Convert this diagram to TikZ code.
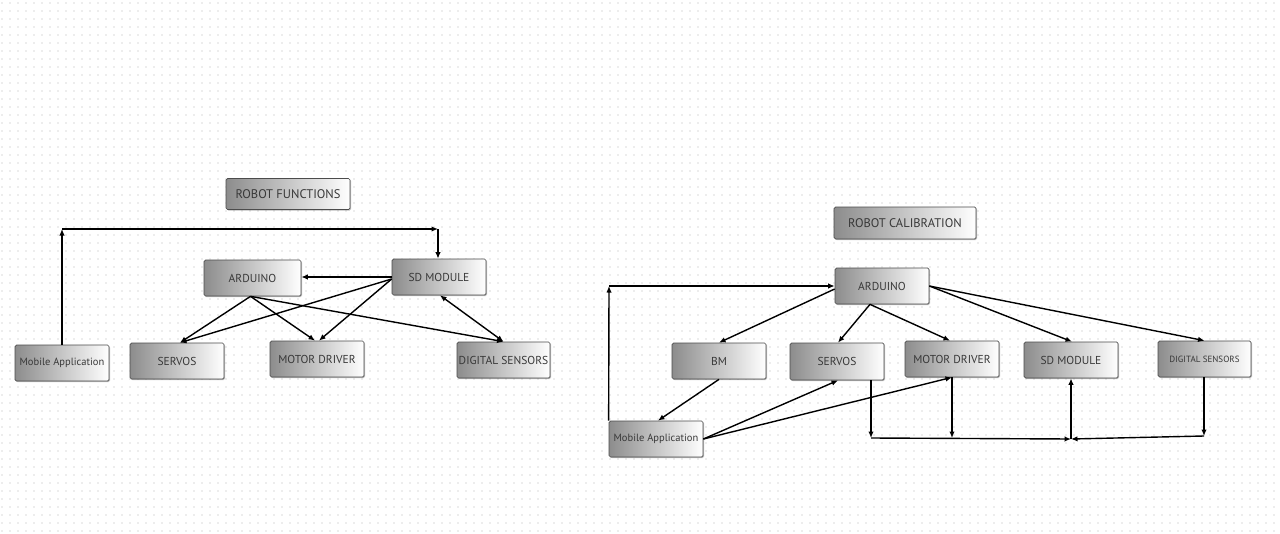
\documentclass[tikz,border=0pt]{standalone}
\usepackage{fontspec}
\setmainfont{PT Sans}
\usetikzlibrary{arrows.meta,shadows,calc}
\begin{document}
\begin{tikzpicture}[x=1pt,y=-1pt,
  blk/.style={draw=black!70, line width=0.7pt, rounded corners=1.5pt,
    left color=black!45, right color=white, text=black!78,
    minimum width=94pt, minimum height=36pt, inner sep=1pt,
    font=\fontsize{11.5}{13}\selectfont,
    drop shadow={shadow xshift=1pt, shadow yshift=-1pt, opacity=0.25, fill=black}},
  conn/.style={line width=1.4pt, -{Latex[length=6.5pt,width=5.5pt]}},
  dconn/.style={line width=1.4pt, {Latex[length=6.5pt,width=5.5pt]}-{Latex[length=6.5pt,width=5.5pt]}},
  plain/.style={line width=1.4pt}
]
\useasboundingbox (0,0) rectangle (1280,533);
\fill[white] (0,0) rectangle (1280,533);
\foreach \j in {0,...,66}
  \draw[black!7, line width=2pt, dash pattern=on 2pt off 6pt] (1,\j*8+3) -- (1280,\j*8+3);

% ---------- Left diagram ----------
\node[blk, minimum width=124pt, minimum height=31pt, font=\fontsize{12.5}{14}\selectfont] (rf) at (288,194) {ROBOT FUNCTIONS};
\node[blk, minimum width=97pt] (ard1) at (252.5,278) {ARDUINO};
\node[blk] (sd1) at (439,277) {SD MODULE};
\node[blk, font=\fontsize{10.5}{12}\selectfont] (mob1) at (62,363) {Mobile Application};
\node[blk] (servo1) at (177,361) {SERVOS};
\node[blk] (md1) at (317,359) {MOTOR DRIVER};
\node[blk, minimum width=93pt] (ds1) at (503.5,360) {DIGITAL SENSORS};

\coordinate (c1) at (62,229);
\coordinate (c2) at (438,229);
\draw[conn] (mob1.north) -- (c1);
\draw[conn] (c1) -- (c2);
\draw[conn] (c2) -- (c2 |- sd1.north);
\draw[conn] (sd1.west) -- (ard1.east |- sd1.west);
\coordinate (s1t) at ($(servo1.north)+(3,0)$);
\coordinate (m1t) at (md1.north);
\draw[conn] ($(ard1.south)+(-2,0)$) -- (s1t);
\draw[conn] ($(ard1.south)+(-2,0)$) -- ($(m1t)+(-2,0)$);
\draw[conn] ($(ard1.south)+(-2,0)$) -- ($(ds1.north)+(0,0)$);
\draw[conn] ($(sd1.west)+(0,2)$) -- (s1t);
\draw[conn] ($(sd1.west)+(0,2)$) -- ($(m1t)+(2,0)$);
\draw[dconn] ($(sd1.south)+(1,0)$) -- (ds1.north);

% ---------- Right diagram ----------
\node[blk, minimum width=142pt, minimum height=32pt, font=\fontsize{12.5}{14}\selectfont] (rc) at (905,223) {ROBOT CALIBRATION};
\node[blk] (ard2) at (882,286) {ARDUINO};
\node[blk] (bm) at (719,361) {BM};
\node[blk, minimum height=37pt] (servo2) at (837,361.5) {SERVOS};
\node[blk] (md2) at (952,359) {MOTOR DRIVER};
\node[blk] (sd2) at (1071,360) {SD MODULE};
\node[blk, minimum width=93pt, font=\fontsize{9}{10}\selectfont] (ds2) at (1204.5,359) {DIGITAL SENSORS};
\node[blk, font=\fontsize{10.5}{12}\selectfont] (mob2) at (656,439) {Mobile Application};

\coordinate (c3) at (609,286);
\draw[conn] (mob2.north west) -- (c3);
\draw[conn] (c3) -- (ard2.west);
\draw[conn] ($(ard2.west)+(0,3)$) -- (bm.north);
\coordinate (a2b) at ($(ard2.south)+(-12,0)$);
\draw[conn] (a2b) -- ($(servo2.north)+(1,0)$);
\draw[conn] (a2b) -- ($(md2.north)+(-2,0)$);
\draw[conn] (ard2.east) -- ($(sd2.north)+(1,0)$);
\draw[conn] (ard2.east) -- (ds2.north);
\draw[conn] (bm.south) -- ($(mob2.north)+(2,0)$);
\draw[conn] (mob2.east) -- ($(servo2.south)+(1,0)$);
\draw[conn] (mob2.east) -- (md2.south);

\coordinate (c4) at (871,438);
\coordinate (c5) at (1071,439);
\coordinate (c7) at (1204,436);
\draw[conn] (servo2.south -| c4) -- (c4);
\draw[conn] (c4) -- (c5);
\draw[conn] (md2.south) -- (md2.south |- c4);
\draw[conn] (c5) -- (sd2.south);
\draw[conn] (ds2.south -| c7) -- (c7);
\draw[conn] (c7) -- (c5);
\end{tikzpicture}
\end{document}
